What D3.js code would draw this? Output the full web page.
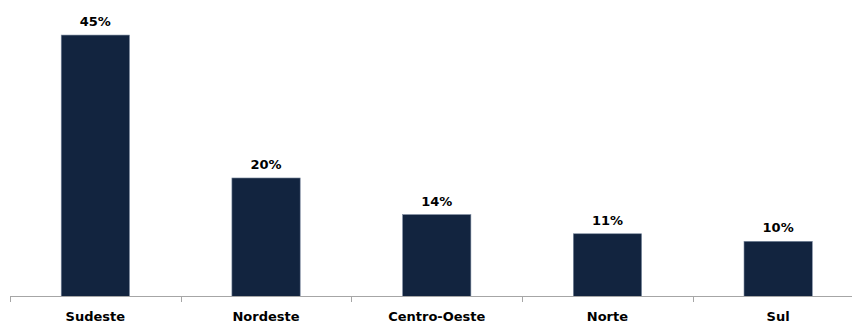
<!DOCTYPE html>
<html>
<head>
<meta charset="utf-8">
<script src="https://cdn.jsdelivr.net/npm/d3@7"></script>
<style>
  html, body { margin: 0; padding: 0; background: #ffffff; }
  svg { display: block; }
</style>
</head>
<body>
<svg id="chart" width="852" height="322"></svg>
<script>
const categories = ["Sudeste", "Nordeste", "Centro-Oeste", "Norte", "Sul"];
const values = [45.0, 20.4, 14.1, 10.8, 9.5];
const valueLabels = ["45%", "20%", "14%", "11%", "10%"];

const svg = d3.select("#chart");
const fontFamily = "'DejaVu Sans', Verdana, sans-serif";

const x = d3.scaleBand()
  .domain(categories)
  .range([10, 863.5])
  .paddingInner(0.6)
  .paddingOuter(0.3);

const y = d3.scaleLinear()
  .domain([0, 50])
  .range([296.5, 296.5 - 5.81 * 50]);

// bars
svg.append("g").selectAll("rect")
  .data(categories)
  .join("rect")
  .attr("x", d => x(d))
  .attr("width", x.bandwidth())
  .attr("y", (d, i) => y(values[i]))
  .attr("height", (d, i) => y(0) - y(values[i]))
  .attr("fill", "#12243f")
  .attr("stroke", "#7c8aa0")
  .attr("stroke-width", 0.6);

// value labels
svg.append("g").selectAll("text")
  .data(categories)
  .join("text")
  .attr("x", d => x(d) + x.bandwidth() / 2)
  .attr("y", (d, i) => y(values[i]) - 9)
  .attr("text-anchor", "middle")
  .attr("font-family", fontFamily)
  .attr("font-weight", "bold")
  .attr("font-size", "13px")
  .attr("fill", "#000")
  .text((d, i) => valueLabels[i]);

// axis
const axisG = svg.append("g");
axisG.append("line")
  .attr("x1", 10).attr("x2", 863.5)
  .attr("y1", 296.5).attr("y2", 296.5)
  .attr("stroke", "#a6a6a6").attr("stroke-width", 1);

const boundaries = d3.range(categories.length + 1).map(i => 10 + i * (863.5 - 10) / categories.length);
axisG.selectAll("line.tick")
  .data(boundaries)
  .join("line")
  .attr("class", "tick")
  .attr("x1", d => Math.round(d) + 0.5).attr("x2", d => Math.round(d) + 0.5)
  .attr("y1", 296.5).attr("y2", 302)
  .attr("stroke", "#a6a6a6").attr("stroke-width", 1);

axisG.selectAll("text")
  .data(categories)
  .join("text")
  .attr("x", d => x(d) + x.bandwidth() / 2)
  .attr("y", 320.5)
  .attr("text-anchor", "middle")
  .attr("font-family", fontFamily)
  .attr("font-weight", "bold")
  .attr("font-size", "13px")
  .attr("fill", "#000")
  .text(d => d);
</script>
</body>
</html>
